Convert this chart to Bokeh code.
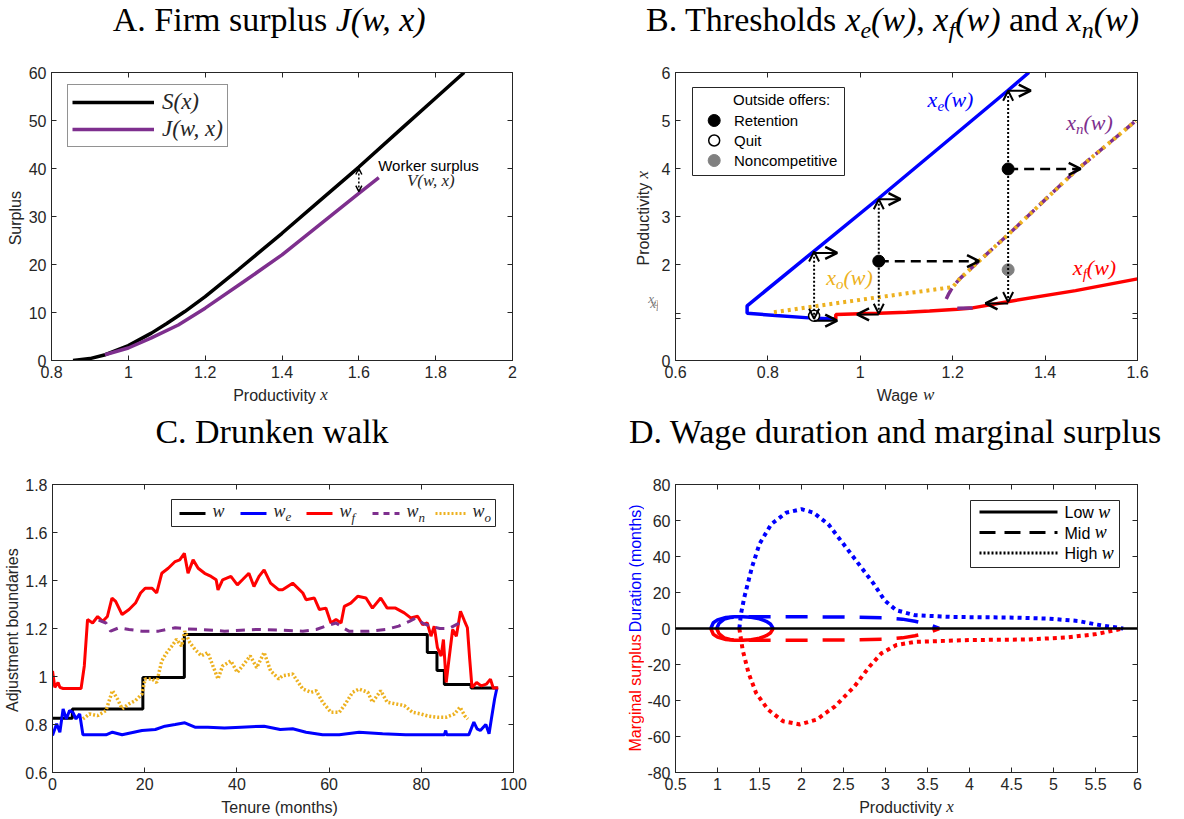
import math
from bokeh.plotting import figure
from bokeh.layouts import row, column
from bokeh.models import (Range1d, LinearAxis, FixedTicker, CustomJSTickFormatter,
                          Label, Legend, LegendItem, Arrow, OpenHead, ColumnDataSource, Span)
from bokeh.embed import file_html
from bokeh.resources import INLINE

# ============================ DATA ============================
# ---- Panel A: surplus curves ----
a_s_x = [0.856, 0.90, 0.94, 1.00, 1.06, 1.10, 1.147, 1.20, 1.286, 1.40, 1.494, 1.60, 1.711, 1.80, 1.874]
a_s_y = [0.0, 0.4, 1.2, 3.1, 5.7, 7.7, 10.2, 13.3, 18.9, 26.5, 33.0, 40.3, 48.3, 54.7, 60.0]
a_j_x = [0.939, 1.00, 1.06, 1.13, 1.20, 1.30, 1.40, 1.50, 1.60, 1.652]
a_j_y = [1.2, 2.6, 4.7, 7.4, 10.9, 16.4, 22.0, 28.4, 34.8, 38.1]
a_gap_x = [1.6]
a_gap_lo = [35.2]
a_gap_hi = [40.0]

# ---- Panel B: thresholds ----
b_xe_w = [1.365, 1.32, 1.04, 0.90, 0.755, 0.755, 0.817, 0.889, 0.947]
b_xe_x = [6.00, 5.63, 3.38, 2.28, 1.14, 0.985, 0.936, 0.888, 0.867]
b_xf_w = [0.947, 0.947, 1.00, 1.04, 1.10, 1.15, 1.21, 1.243, 1.322, 1.466, 1.60]
b_xf_x = [0.867, 0.96, 0.975, 0.985, 1.005, 1.03, 1.07, 1.096, 1.23, 1.456, 1.70]
b_xn0_w = [1.21, 1.243]
b_xn0_x = [1.09, 1.095]
b_xn_w = [1.186, 1.192, 1.20, 1.215, 1.25, 1.322, 1.466, 1.596]
b_xn_x = [1.28, 1.40, 1.53, 1.70, 2.01, 2.64, 3.95, 4.99]
b_xo_w = [0.813, 1.033, 1.20, 1.215, 1.25, 1.322, 1.466, 1.596]
b_xo_x = [1.005, 1.31, 1.53, 1.70, 2.01, 2.64, 3.95, 4.99]
b_tick_xl = 0.867
b_tick_x0 = 0.985
# outside-offer arrows
b_vert_w = [0.90, 1.04, 1.32]
b_vert_lo = [0.87, 0.975, 1.22]
b_vert_hi = [2.27, 3.36, 5.62]
b_up_w1 = [0.95, 1.087, 1.369]
b_up_x = [2.24, 3.36, 5.62]
b_lo_w1 = [0.95, 0.993, 1.271]
b_lo_x = [0.83, 0.96, 1.19]
b_ret_w = [1.04, 1.32]
b_ret_x = [2.07, 3.99]
b_ret_w1 = [1.257, 1.477]
b_quit_w = [0.90]
b_quit_x = [0.93]
b_nonc_w = [1.32]
b_nonc_x = [1.89]

# ---- Panel C: drunken walk ----
c_w_t = [0, 4.3, 19.6, 28.6, 81.3, 83.4, 85.0, 90.8, 96.6]
c_w_v = [0.826, 0.865, 0.996, 1.175, 1.10, 1.025, 0.967, 0.952, 0.952]
c_we_t = [0, 0.9, 1.6, 2.3, 3.0, 3.7, 4.4, 5.1, 5.9, 6.6, 11.6, 13.0, 15.1, 19.4, 22.3, 24.4, 26.6,
          28.7, 30.9, 33.7, 37.3, 40.9, 45.9, 49.4, 52.1, 55.0, 58.6, 62.2, 66.5, 71.6, 76.6, 85.0,
          85.3, 85.5, 90.3, 91.4, 92.1, 92.8, 94.0, 94.7, 95.2, 95.9, 96.4]
c_we_v = [0.754, 0.803, 0.768, 0.865, 0.823, 0.858, 0.851, 0.823, 0.844, 0.757, 0.757, 0.768, 0.757,
          0.775, 0.779, 0.793, 0.800, 0.807, 0.789, 0.789, 0.785, 0.789, 0.793, 0.779, 0.782, 0.768,
          0.757, 0.757, 0.768, 0.761, 0.757, 0.757, 0.775, 0.757, 0.757, 0.810, 0.782, 0.775, 0.800,
          0.761, 0.823, 0.906, 0.952]
c_wf_t = [0, 0.5, 1.2, 1.6, 2.3, 6.2, 6.9, 7.6, 8.7, 9.8, 10.9, 11.9, 12.9, 13.7, 15.1, 16.6, 18.0,
          19.1, 20.1, 21.6, 22.6, 23.7, 25.1, 26.6, 27.6, 28.6, 29.4, 30.5, 31.6, 33.0, 34.4, 35.5,
          35.9, 36.9, 38.7, 40.1, 41.2, 42.6, 43.7, 44.8, 45.9, 47.3, 49.1, 49.9, 52.1, 54.3, 55.0,
          56.8, 57.9, 59.3, 60.4, 61.5, 62.6, 63.3, 64.7, 66.2, 68.0, 69.4, 71.2, 72.6, 74.4, 76.3,
          77.7, 79.2, 80.3, 81.3, 82.1, 82.8, 83.5, 84.3, 84.8, 85.4, 86.0, 86.8, 87.6, 88.5, 89.4,
          90.0, 90.5, 91.0, 92.0, 93.0, 94.1, 95.0, 95.6, 96.7]
c_wf_v = [1.023, 0.955, 0.975, 0.955, 0.95, 0.95, 1.044, 1.237, 1.223, 1.25, 1.23, 1.25, 1.327,
          1.313, 1.258, 1.279, 1.306, 1.348, 1.368, 1.368, 1.348, 1.43, 1.451, 1.479, 1.486, 1.513,
          1.43, 1.486, 1.451, 1.43, 1.417, 1.403, 1.361, 1.403, 1.417, 1.382, 1.403, 1.43, 1.375,
          1.417, 1.444, 1.389, 1.361, 1.361, 1.389, 1.348, 1.32, 1.327, 1.279, 1.285, 1.223, 1.237,
          1.223, 1.292, 1.306, 1.334, 1.327, 1.285, 1.327, 1.285, 1.285, 1.265, 1.244, 1.251, 1.216,
          1.223, 1.168, 1.21, 1.12, 1.085, 1.154, 0.975, 1.072, 1.196, 1.168, 1.272, 1.23, 1.203,
          1.072, 0.954, 0.975, 0.961, 0.968, 0.989, 0.952, 0.952]
c_wn_t = [10.0, 11.6, 12.6, 14.4, 16.6, 19.4, 23.0, 26.6, 28.7, 32.3, 37.3, 40.9, 44.4, 49.4, 54.3,
          57.2, 59.3, 61.5, 63.0, 64.3, 68.7, 72.3, 75.1, 77.4, 78.8, 80.5, 82.0, 84.0, 86.0, 88.0, 89.2]
c_wn_v = [1.235, 1.223, 1.189, 1.203, 1.196, 1.189, 1.189, 1.203, 1.199, 1.196, 1.189, 1.193, 1.196,
          1.193, 1.189, 1.196, 1.21, 1.223, 1.203, 1.189, 1.189, 1.196, 1.21, 1.23, 1.244, 1.22,
          1.21, 1.20, 1.20, 1.22, 1.235]
c_wo_t = [6.6, 8.0, 9.8, 11.6, 13.0, 14.1, 15.1, 16.6, 18.0, 19.4, 20.1, 21.6, 22.6, 23.7, 24.8,
          25.9, 26.9, 28.0, 28.7, 29.8, 30.9, 32.3, 33.7, 34.8, 35.9, 36.9, 38.7, 40.1, 41.5, 42.9,
          44.3, 45.9, 47.3, 49.1, 49.9, 52.1, 54.3, 56.1, 57.2, 58.6, 60.4, 62.2, 63.3, 65.1, 66.5,
          68.4, 69.4, 71.2, 72.6, 74.4, 76.3, 78.1, 79.9, 81.7, 83.5, 85.3, 87.2, 88.4, 89.4, 90.1]
c_wo_v = [0.823, 0.844, 0.837, 0.858, 0.941, 0.906, 0.865, 0.886, 0.90, 0.927, 0.99, 0.99, 0.975,
          1.065, 1.10, 1.127, 1.155, 1.127, 1.189, 1.141, 1.113, 1.086, 1.10, 1.044, 0.99, 1.044,
          1.065, 1.017, 1.051, 1.086, 1.037, 1.10, 1.024, 0.99, 1.003, 1.01, 0.948, 0.934, 0.941,
          0.893, 0.851, 0.851, 0.879, 0.934, 0.948, 0.934, 0.893, 0.941, 0.893, 0.886, 0.879, 0.851,
          0.844, 0.834, 0.830, 0.830, 0.844, 0.872, 0.837, 0.823]

# ---- Panel D: duration (+) and marginal surplus (-) ----
d_low_x = [0.92, 0.95, 1.00, 1.10, 1.20, 1.30, 1.40, 1.50, 1.58, 1.63, 1.663]
d_low_dur = [0.0, 3.2, 4.8, 6.1, 6.5, 6.5, 6.2, 5.4, 4.0, 2.5, 0.0]
d_low_ms = [0.0, -3.2, -4.8, -6.1, -6.5, -6.5, -6.2, -5.4, -4.0, -2.5, 0.0]
d_mid_x = [0.99, 1.02, 1.08, 1.15, 1.30, 1.60, 2.00, 2.50, 3.00, 3.20, 3.35, 3.50, 3.64]
d_mid_dur = [0.0, 3.0, 5.2, 6.1, 6.5, 6.5, 6.5, 6.4, 6.0, 5.2, 4.0, 2.5, 0.0]
d_mid_ms = [0.0, -3.0, -5.2, -6.1, -6.5, -6.5, -6.5, -6.4, -6.0, -5.2, -4.0, -2.5, 0.0]
d_high_dx = [1.26, 1.28, 1.32, 1.41, 1.50, 1.64, 1.82, 2.00, 2.14, 2.32, 2.50, 2.68, 2.86, 2.99,
             3.13, 3.35, 3.80, 4.48, 4.93, 5.29, 5.56, 5.83]
d_high_dur = [0.0, 8.3, 17.5, 34.0, 47.0, 58.0, 64.4, 66.3, 64.4, 57.9, 46.9, 35.9, 24.8, 15.6,
              10.1, 7.4, 6.4, 6.1, 5.5, 4.2, 1.8, 0.0]
d_high_mx = [1.26, 1.30, 1.37, 1.46, 1.60, 1.78, 1.98, 2.18, 2.40, 2.63, 2.81, 2.95, 3.13, 3.35,
             4.03, 4.70, 5.15, 5.51, 5.83]
d_high_ms = [0.0, -12.0, -24.8, -35.9, -45.0, -51.5, -53.3, -50.6, -43.2, -32.2, -21.1, -13.8,
             -9.2, -7.4, -6.4, -6.1, -5.0, -3.1, 0.0]

# tick values
a_xticks = [0.8, 1.0, 1.2, 1.4, 1.6, 1.8, 2.0]
a_yticks = [0, 10, 20, 30, 40, 50, 60]
b_xticks = [0.6, 0.8, 1.0, 1.2, 1.4, 1.6]
b_yticks = [0, b_tick_xl, b_tick_x0, 2, 3, 4, 5, 6]
c_xticks = [0, 20, 40, 60, 80, 100]
c_yticks = [0.6, 0.8, 1.0, 1.2, 1.4, 1.6, 1.8]
d_xticks = [0.5, 1, 1.5, 2, 2.5, 3, 3.5, 4, 4.5, 5, 5.5, 6]
d_yticks = [-80, -60, -40, -20, 0, 20, 40, 60, 80]

# ============================ STYLE ============================
SANS = "Liberation Sans"
SERIF = "Liberation Serif"
TXT = "#262626"
BLUE = "#0000FF"
RED = "#FF0000"
PURPLE = "#7E2F8E"
ORANGE = "#EDB120"
GREY = "#808080"
K_BASE = 0.34   # label anchor sits ~0.34 em above the glyph baseline

W_SANS = {' ': 278, '(': 333, ')': 333, '-': 333, '.': 278, ',': 278, ':': 278,
          'A': 667, 'B': 667, 'C': 722, 'D': 722, 'E': 667, 'F': 611, 'H': 722, 'L': 556, 'M': 833,
          'N': 722, 'O': 778, 'P': 667, 'Q': 778, 'R': 722, 'S': 667, 'T': 611, 'W': 944,
          'a': 556, 'b': 556, 'c': 500, 'd': 556, 'e': 556, 'f': 278, 'g': 556, 'h': 556, 'i': 222,
          'j': 222, 'k': 500, 'l': 222, 'm': 833, 'n': 556, 'o': 556, 'p': 556, 'q': 556, 'r': 333,
          's': 500, 't': 278, 'u': 556, 'v': 500, 'w': 722, 'x': 500, 'y': 500, 'z': 500}
W_SERIF = {' ': 250, '(': 333, ')': 333, ',': 250, '.': 250, ':': 278,
           'A': 722, 'B': 667, 'C': 667, 'D': 722, 'F': 556, 'J': 389, 'T': 611, 'W': 944,
           'a': 444, 'b': 500, 'c': 444, 'd': 500, 'e': 444, 'f': 333, 'g': 500, 'h': 500, 'i': 278,
           'k': 500, 'l': 278, 'm': 778, 'n': 500, 'o': 500, 'p': 500, 'r': 333, 's': 389, 't': 278,
           'u': 500, 'w': 722, 'x': 500, 'y': 500}
W_SERIF_I = {' ': 250, '(': 333, ')': 333, ',': 250, '0': 500, 'J': 444, 'S': 500, 'V': 611,
             'e': 444, 'f': 278, 'l': 278, 'n': 500, 'o': 500, 'w': 667, 'x': 444}
FONTS = {"sans": (SANS, "normal", W_SANS), "serif": (SERIF, "normal", W_SERIF),
         "serif_i": (SERIF, "italic", W_SERIF_I)}


def tw(s, kind, size):
    tab = FONTS[kind][2]
    return sum(tab.get(ch, 520) for ch in s) / 1000.0 * size


class Pan:
    """maps page pixels (from the top-left corner of the page) to data coordinates"""
    def __init__(self, L, T, W, H, xr, yr):
        self.L, self.T, self.W, self.H = L, T, W, H
        self.x0, self.x1 = xr
        self.y0, self.y1 = yr

    def dx(self, px):
        return self.x0 + (px - self.L) * (self.x1 - self.x0) / self.W

    def dy(self, py):
        return self.y1 - (py - self.T) * (self.y1 - self.y0) / self.H


def rich(p, pan, cx, cy, segs, align="center", angle=0.0, color=TXT):
    """segs: (text, kind, size[, shift_up_px[, color]]); (cx, cy) = baseline anchor in page px"""
    total = sum(tw(s[0], s[1], s[2]) for s in segs)
    acc = {"center": -total / 2.0, "left": 0.0, "right": -total}[align]
    X, Y = pan.dx(cx), pan.dy(cy)
    for seg in segs:
        text, kind, size = seg[0], seg[1], seg[2]
        shift = (seg[3] if len(seg) > 3 else 0) + K_BASE * size
        col = seg[4] if len(seg) > 4 else color
        lead = len(text) - len(text.lstrip(" "))
        trail = len(text) - len(text.rstrip(" "))
        core = text.strip(" ")
        acc += tw(" " * lead, kind, size)
        if core:
            if angle == 0:
                xo, yo = acc, shift
            else:
                xo, yo = -shift, acc
            font, style, _ = FONTS[kind]
            p.add_layout(Label(x=X, y=Y, x_offset=xo, y_offset=yo, text=core, angle=angle,
                               text_font=font, text_font_style=style,
                               text_font_size=f"{size}px", text_color=col,
                               text_align="left", text_baseline="alphabetic"))
        acc += tw(core, kind, size) + tw(" " * trail, kind, size)


FMT = "return String(Math.round(tick*1000)/1000);"
FMT_INT = "return Number.isInteger(tick) ? String(tick) : '';"


def style_axis(ax, ticks, code, hide=False):
    ax.ticker = FixedTicker(ticks=ticks)
    ax.formatter = CustomJSTickFormatter(code=code)
    ax.major_tick_in = 5
    ax.major_tick_out = 0
    ax.minor_tick_line_color = None
    ax.major_tick_line_color = TXT
    ax.axis_line_color = TXT
    ax.major_label_text_font = SANS
    ax.major_label_text_font_size = "16px"
    ax.major_label_text_color = None if hide else TXT
    ax.major_label_standoff = 5
    ax.axis_label = None


def make_fig(pan, xt, yt, bl, br, bt, bb, yfmt=FMT):
    p = figure(x_range=Range1d(pan.x0, pan.x1), y_range=Range1d(pan.y0, pan.y1),
               frame_width=pan.W, frame_height=pan.H,
               min_border_left=bl, min_border_right=br, min_border_top=bt, min_border_bottom=bb,
               output_backend="svg", toolbar_location=None)
    p.xgrid.visible = False
    p.ygrid.visible = False
    p.outline_line_color = TXT
    p.outline_line_width = 1
    style_axis(p.xaxis[0], xt, FMT)
    style_axis(p.yaxis[0], yt, yfmt)
    top = LinearAxis()
    style_axis(top, xt, FMT, hide=True)
    p.add_layout(top, "above")
    right = LinearAxis()
    style_axis(right, yt, yfmt, hide=True)
    p.add_layout(right, "right")
    return p


def strip(left, top, W, H):
    """text-only strip (title / axis label) placed at page pixels (left, top)"""
    s = figure(width=W, height=H, x_range=Range1d(left, left + W), y_range=Range1d(-(top + H), -top),
               min_border=0, min_border_left=0, min_border_right=0, min_border_top=0,
               min_border_bottom=0, x_axis_type=None, y_axis_type=None,
               output_backend="svg", toolbar_location=None)
    s.outline_line_color = None
    return s, Pan(left, top, W, H, (left, left + W), (-(top + H), -top))


def arrows(p, x0, y0, x1, y1, start=None, end=None, **kw):
    src = ColumnDataSource(dict(x0=x0, y0=y0, x1=x1, y1=y1))
    p.add_layout(Arrow(x_start="x0", y_start="y0", x_end="x1", y_end="y1", source=src,
                       start=start, end=end, **kw))


TS = 34        # title size
TSUB = 24
AX = 16        # axis label size
MATH = 17
TOPB, BOTB = 28, 24

# ============================ PANEL A ============================
pa = Pan(50, 72, 461, 288, (0.8, 2.0), (0, 60))
pA = make_fig(pa, a_xticks, a_yticks, 25, 81, TOPB, BOTB)
rS = pA.line(a_s_x, a_s_y, line_color="black", line_width=3.5)
rJ = pA.line(a_j_x, a_j_y, line_color=PURPLE, line_width=3.5)
arrows(pA, a_gap_x, a_gap_lo, a_gap_x, a_gap_hi,
       start=OpenHead(size=6, line_width=1.5), end=OpenHead(size=6, line_width=1.5),
       line_dash="2 2", line_width=1.5)
legA = Legend(items=[LegendItem(label="S(x)", renderers=[rS]),
                     LegendItem(label="J(w, x)", renderers=[rJ])],
              location=(16, 213), label_text_font=SERIF, label_text_font_style="italic",
              label_text_font_size="23px", label_text_color=TXT, glyph_width=82, glyph_height=26,
              label_height=26, spacing=1, padding=4, margin=0, label_standoff=8,
              border_line_color=TXT, border_line_width=1, background_fill_alpha=1.0)
pA.add_layout(legA)
rich(pA, pa, 376.7, 170, [("Worker surplus", "sans", 15)], align="left", color="black")
rich(pA, pa, 430, 186, [("V(w, x)", "serif_i", 17)], color=TXT)
tA, tpa = strip(0, 0, 592, 44)
rich(tA, tpa, 270, 31, [("A. Firm surplus ", "serif", TS), ("J(w, x)", "serif_i", TS)], color="black")
yA, ypa = strip(0, 44, 25, 340)
rich(yA, ypa, 20, 216, [("Surplus", "sans", AX)], angle=math.pi / 2)
xA, xpa = strip(0, 384, 592, 28)
rich(xA, xpa, 280, 400, [("Productivity ", "sans", AX), ("x", "serif_i", MATH)])
panelA = column(tA, row(yA, pA), xA)

# ============================ PANEL B ============================
pb = Pan(673, 72, 462, 288, (0.6, 1.6), (0, 6))
pB = make_fig(pb, b_xticks, b_yticks, 16, 49, TOPB, BOTB, yfmt=FMT_INT)
pB.line(b_xe_w, b_xe_x, line_color=BLUE, line_width=3.5)
pB.line(b_xf_w, b_xf_x, line_color=RED, line_width=3.5)
pB.line(b_xn0_w, b_xn0_x, line_color=PURPLE, line_width=3.5)
pB.line(b_xn_w, b_xn_x, line_color=PURPLE, line_width=3.5, line_dash="12 7")
pB.line(b_xo_w, b_xo_x, line_color=ORANGE, line_width=4, line_dash="3 4")
arrows(pB, b_vert_w, b_vert_lo, b_vert_w, b_vert_hi,
       start=OpenHead(size=10, line_width=2), end=OpenHead(size=10, line_width=2),
       line_dash="2 2", line_width=2)
arrows(pB, b_vert_w, b_up_x, b_up_w1, b_up_x, end=OpenHead(size=12, line_width=2.5), line_width=2)
arrows(pB, b_vert_w, b_lo_x, b_lo_w1, b_lo_x, end=OpenHead(size=12, line_width=2.5), line_width=2)
arrows(pB, b_ret_w, b_ret_x, b_ret_w1, b_ret_x, end=OpenHead(size=12, line_width=2.5),
       line_width=2.5, line_dash="10 6")
pB.scatter(b_ret_w, b_ret_x, size=12, fill_color="black", line_color="black")
pB.scatter(b_quit_w, b_quit_x, size=11, fill_color="white", line_color="black", line_width=1.5)
pB.scatter(b_nonc_w, b_nonc_x, size=12, fill_color=GREY, line_color=GREY)
# legend (manual)
pB.quad(left=[pb.dx(690)], right=[pb.dx(842)], top=[pb.dy(87)], bottom=[pb.dy(175)],
        fill_color="white", line_color=TXT, line_width=1)
pB.scatter([pb.dx(711.7)], [pb.dy(120)], size=12, fill_color="black", line_color="black")
pB.scatter([pb.dx(711.7)], [pb.dy(140)], size=11, fill_color="white", line_color="black", line_width=1.5)
pB.scatter([pb.dx(711.7)], [pb.dy(160)], size=12, fill_color=GREY, line_color=GREY)
rich(pB, pb, 730.5, 104.5, [("Outside offers:", "sans", 15)], align="left", color="black")
rich(pB, pb, 731.5, 125.5, [("Retention", "sans", 15)], align="left", color="black")
rich(pB, pb, 731.5, 145.5, [("Quit", "sans", 15)], align="left", color="black")
rich(pB, pb, 731.5, 165.5, [("Noncompetitive", "sans", 15)], align="left", color="black")
# curve labels
rich(pB, pb, 948, 106, [("x", "serif_i", 22), ("e", "serif_i", 15, -5), ("(w)", "serif_i", 22)], color=BLUE)
rich(pB, pb, 1087, 129, [("x", "serif_i", 22), ("n", "serif_i", 15, -5), ("(w)", "serif_i", 22)], color=PURPLE)
rich(pB, pb, 847, 284, [("x", "serif_i", 22), ("o", "serif_i", 15, -5), ("(w)", "serif_i", 22)], color=ORANGE)
rich(pB, pb, 1092, 274, [("x", "serif_i", 22), ("f", "serif_i", 15, -5), ("(w)", "serif_i", 22)], color=RED)
tB, tpb = strip(592, 0, 592, 44)
rich(tB, tpb, 891, 31, [("B. Thresholds ", "serif", TS), ("x", "serif_i", TS), ("e", "serif_i", TSUB, -7),
                        ("(w)", "serif_i", TS), (", ", "serif", TS), ("x", "serif_i", TS),
                        ("f", "serif_i", TSUB, -7), ("(w)", "serif_i", TS), (" and ", "serif", TS),
                        ("x", "serif_i", TS), ("n", "serif_i", TSUB, -7), ("(w)", "serif_i", TS)],
     color="black")
yB, ypb = strip(592, 44, 65, 340)
rich(yB, ypb, 647, 216, [("Productivity ", "sans", AX), ("x", "serif_i", MATH)], angle=math.pi / 2)
# special tick labels x0 and xl
rich(yB, ypb, 657, 316, [("x", "serif_i", 13), ("0", "serif_i", 9, -3)], align="right", color="#777777")
rich(yB, ypb, 657, 322, [("x", "serif_i", 13), ("l", "serif_i", 9, -3)], align="right", color="#777777")
xB, xpb = strip(592, 384, 592, 28)
rich(xB, xpb, 904, 400, [("Wage ", "sans", AX), ("w", "serif_i", MATH)])
panelB = column(tB, row(yB, pB), xB)

# ============================ PANEL C ============================
pc = Pan(50, 484, 461, 288, (0, 100), (0.6, 1.8))
pC = make_fig(pc, c_xticks, c_yticks, 28, 81, TOPB, BOTB)
pC.step(c_w_t, c_w_v, mode="after", line_color="black", line_width=3)
pC.line(c_we_t, c_we_v, line_color=BLUE, line_width=3)
pC.line(c_wf_t, c_wf_v, line_color=RED, line_width=3)
pC.line(c_wn_t, c_wn_v, line_color=PURPLE, line_width=3, line_dash="9 7")
pC.line(c_wo_t, c_wo_v, line_color=ORANGE, line_width=3.5, line_dash="2 2")
# legend (manual, horizontal)
pC.quad(left=[pc.dx(169)], right=[pc.dx(493)], top=[pc.dy(499)], bottom=[pc.dy(526)],
        fill_color="white", line_color=TXT, line_width=1)
leg_y = pc.dy(513)
c_leg = [(177, 203, "black", None, [("w", "serif_i", 18)]),
         (238, 264, BLUE, None, [("w", "serif_i", 18), ("e", "serif_i", 13, -4)]),
         (304, 330, RED, None, [("w", "serif_i", 18), ("f", "serif_i", 13, -4)]),
         (370, 397, PURPLE, "6 5", [("w", "serif_i", 18), ("n", "serif_i", 13, -4)]),
         (433, 463, ORANGE, "2 2", [("w", "serif_i", 18), ("o", "serif_i", 13, -4)])]
for x0, x1, col, dash, segs in c_leg:
    kw = dict(line_color=col, line_width=3)
    if dash:
        kw["line_dash"] = dash
    pC.line([pc.dx(x0), pc.dx(x1)], [leg_y, leg_y], **kw)
    rich(pC, pc, x1 + 7, 517, segs, align="left", color=TXT)
tC, tpc = strip(0, 412, 592, 44)
rich(tC, tpc, 271.5, 443, [("C. Drunken walk", "serif", TS)], color="black")
yC, ypc = strip(0, 456, 22, 340)
rich(yC, ypc, 17.5, 628, [("Adjustment boundaries", "sans", AX)], angle=math.pi / 2)
xC, xpc = strip(0, 796, 592, 23)
rich(xC, xpc, 280, 812, [("Tenure (months)", "sans", AX)])
panelC = column(tC, row(yC, pC), xC)

# ============================ PANEL D ============================
pd_ = Pan(673, 484, 462, 288, (0.5, 6.0), (-80, 80))
pD = make_fig(pd_, d_xticks, d_yticks, 31, 49, TOPB, BOTB)
pD.line(d_low_x, d_low_dur, line_color=BLUE, line_width=3.5)
pD.line(d_low_x, d_low_ms, line_color=RED, line_width=3.5)
pD.line(d_mid_x, d_mid_dur, line_color=BLUE, line_width=3.5, line_dash="22 15")
pD.line(d_mid_x, d_mid_ms, line_color=RED, line_width=3.5, line_dash="22 15")
pD.line(d_high_dx, d_high_dur, line_color=BLUE, line_width=4, line_dash="4 4")
pD.line(d_high_mx, d_high_ms, line_color=RED, line_width=4, line_dash="4 4")
pD.add_layout(Span(location=0, dimension="width", line_color="black", line_width=2.5))
# legend (manual)
pD.quad(left=[pd_.dx(968)], right=[pd_.dx(1117)], top=[pd_.dy(500)], bottom=[pd_.dy(567)],
        fill_color="white", line_color=TXT, line_width=1)
d_leg = [(511.5, None, "Low "), (532, "16 9", "Mid "), (552.5, "2 2", "High ")]
for yy, dash, lab in d_leg:
    kw = dict(line_color="black", line_width=3)
    if dash:
        kw["line_dash"] = dash
    pD.line([pd_.dx(977), pd_.dx(1055)], [pd_.dy(yy), pd_.dy(yy)], **kw)
    rich(pD, pd_, 1062, yy + 6, [(lab, "sans", 16), ("w", "serif_i", 18)], align="left", color="black")
tD, tpd = strip(592, 412, 592, 44)
rich(tD, tpd, 894.6, 443, [("D. Wage duration and marginal surplus", "serif", TS)], color="black")
yD, ypd = strip(592, 456, 50, 340)
rich(yD, ypd, 638, 555, [("Duration (months)", "sans", AX)], angle=math.pi / 2, color=BLUE)
rich(yD, ypd, 638, 702, [("Marginal surplus", "sans", AX)], angle=math.pi / 2, color=RED)
xD, xpd = strip(592, 796, 592, 23)
rich(xD, xpd, 904, 812, [("Productivity ", "sans", AX), ("x", "serif_i", MATH)])
panelD = column(tD, row(yD, pD), xD)

layout = column(row(panelA, panelB), row(panelC, panelD))
open("out.html", "w").write(file_html(layout, INLINE))
